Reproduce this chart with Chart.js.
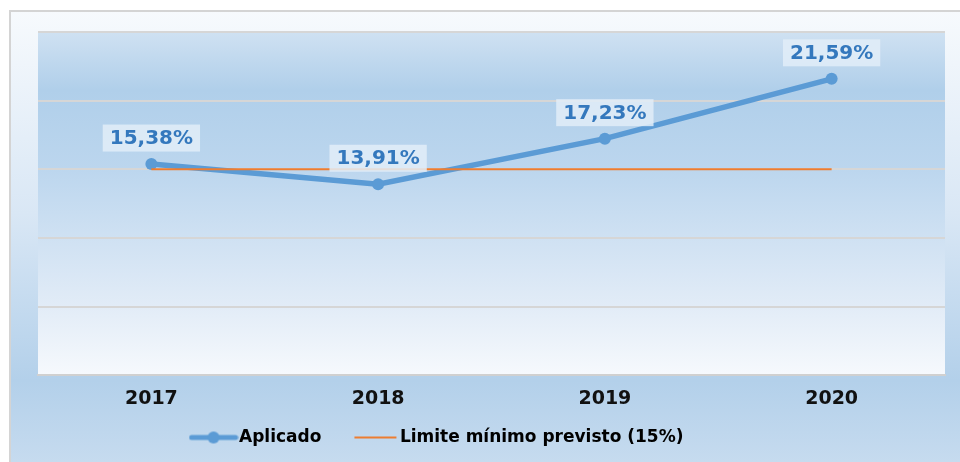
<!DOCTYPE html>
<html><head><meta charset="utf-8">
<script src="https://cdn.jsdelivr.net/npm/chart.js@4"></script>
<style>html,body{margin:0;padding:0;background:#fff}#wrap{width:960px;height:462px}</style>
</head><body><div id="wrap"><canvas id="c" width="960" height="462"></canvas></div>
<script>
const categories = ['2017', '2018', '2019', '2020'];
const aplicado = [15.38, 13.91, 17.23, 21.59];
const limite = [15, 15, 15, 15];
const valueLabels = ['15,38%', '13,91%', '17,23%', '21,59%'];
const seriesNames = ['Aplicado', 'Limite mínimo previsto (15%)'];
const yMin = 0, yMax = 25, yStep = 5;

const BLUE = '#5b9bd5', ORANGE = '#ed7d31';

function makeIcon(kind) {
  const c = document.createElement('canvas');
  c.width = 50; c.height = 14;
  const x = c.getContext('2d');
  if (kind === 0) {
    x.strokeStyle = BLUE; x.lineWidth = 5; x.lineCap = 'round';
    x.beginPath(); x.moveTo(3, 7); x.lineTo(47, 7); x.stroke();
    x.fillStyle = BLUE; x.beginPath(); x.arc(25, 7, 6, 0, Math.PI * 2); x.fill();
  } else {
    x.strokeStyle = ORANGE; x.lineWidth = 2;
    x.beginPath(); x.moveTo(5, 7); x.lineTo(47, 7); x.stroke();
  }
  return c;
}
const icons = [makeIcon(0), makeIcon(1)];

const bgPlugin = {
  id: 'bg',
  beforeDraw(chart) {
    const ctx = chart.ctx, a = chart.chartArea;
    ctx.save();
    ctx.fillStyle = '#ffffff';
    ctx.fillRect(0, 0, chart.width, chart.height);
    const g = ctx.createLinearGradient(0, 10, 0, 462);
    g.addColorStop(0, '#f7fafd');
    g.addColorStop(0.45, '#d9e7f5');
    g.addColorStop(0.82, '#b3d0ea');
    g.addColorStop(1, '#c6dbef');
    ctx.fillStyle = g;
    ctx.fillRect(10, 11, chart.width - 10, chart.height - 11);
    ctx.strokeStyle = '#d4d4d4'; ctx.lineWidth = 2;
    ctx.beginPath(); ctx.moveTo(10, chart.height); ctx.lineTo(10, 11); ctx.lineTo(chart.width, 11); ctx.stroke();
    const g2 = ctx.createLinearGradient(0, a.top, 0, a.bottom);
    g2.addColorStop(0, '#cfe1f2');
    g2.addColorStop(0.17, '#b0cfea');
    g2.addColorStop(0.4, '#bcd6ee');
    g2.addColorStop(0.8, '#e2ecf7');
    g2.addColorStop(1, '#f6f9fd');
    ctx.fillStyle = g2;
    ctx.fillRect(a.left, a.top, a.right - a.left, a.bottom - a.top);
    ctx.restore();
  }
};

const labelPlugin = {
  id: 'vlabels',
  afterDatasetsDraw(chart) {
    const ctx = chart.ctx;
    const meta = chart.getDatasetMeta(0);
    ctx.save();
    ctx.font = 'bold 20px "DejaVu Sans"';
    ctx.textAlign = 'center';
    ctx.textBaseline = 'middle';
    meta.data.forEach((p, i) => {
      const t = valueLabels[i];
      const w = ctx.measureText(t).width + 14;
      const cy = p.y - 26;
      ctx.fillStyle = 'rgba(226,237,248,0.85)';
      ctx.fillRect(p.x - w / 2, cy - 13.5, w, 27);
      ctx.fillStyle = '#3478bd';
      ctx.fillText(t, p.x, cy + 1);
    });
    ctx.restore();
  }
};

const legendShift = {
  id: 'legendShift',
  afterLayout(chart) {
    if (chart.legend) {
      chart.legend.left = 0; chart.legend.right = 880;
      chart.legend.top = 393;
    }
  }
};

new Chart(document.getElementById('c'), {
  type: 'line',
  data: {
    labels: categories,
    datasets: [
      { label: seriesNames[0], data: aplicado, borderColor: BLUE, backgroundColor: BLUE,
        borderWidth: 5.5, pointRadius: 6, pointBackgroundColor: BLUE, pointBorderWidth: 0,
        tension: 0, order: 1 },
      { label: seriesNames[1], data: limite, borderColor: ORANGE, backgroundColor: ORANGE,
        borderWidth: 2, pointRadius: 0, tension: 0, order: 0 }
    ]
  },
  options: {
    responsive: false,
    animation: false,
    layout: { padding: { top: 32, left: 38, right: 15, bottom: 6 } },
    scales: {
      x: {
        offset: true,
        grid: { display: false, drawTicks: false },
        border: { display: true, color: '#d0d0d0', width: 2 },
        ticks: { color: '#111', font: { family: 'DejaVu Sans', size: 19, weight: 'bold' }, padding: 12 }
      },
      y: {
        min: yMin, max: yMax,
        ticks: { display: false, stepSize: yStep },
        grid: { color: '#d6d6d6', lineWidth: 2, drawTicks: false },
        border: { display: false }
      }
    },
    plugins: {
      tooltip: { enabled: false },
      legend: {
        position: 'bottom',
        maxHeight: 34,
        labels: {
          usePointStyle: true,
          pointStyleWidth: 34,
          padding: 36,
          color: '#000',
          font: { family: 'DejaVu Sans', size: 17, weight: 'bold' },
          generateLabels(chart) {
            return chart.data.datasets.map((ds, i) => ({
              text: ds.label, pointStyle: icons[i], fillStyle: 'rgba(0,0,0,0)',
              strokeStyle: 'rgba(0,0,0,0)', lineWidth: 0, hidden: false, datasetIndex: i, fontColor: '#000'
            }));
          }
        }
      }
    }
  },
  plugins: [bgPlugin, labelPlugin, legendShift]
});
</script>
</body></html>
